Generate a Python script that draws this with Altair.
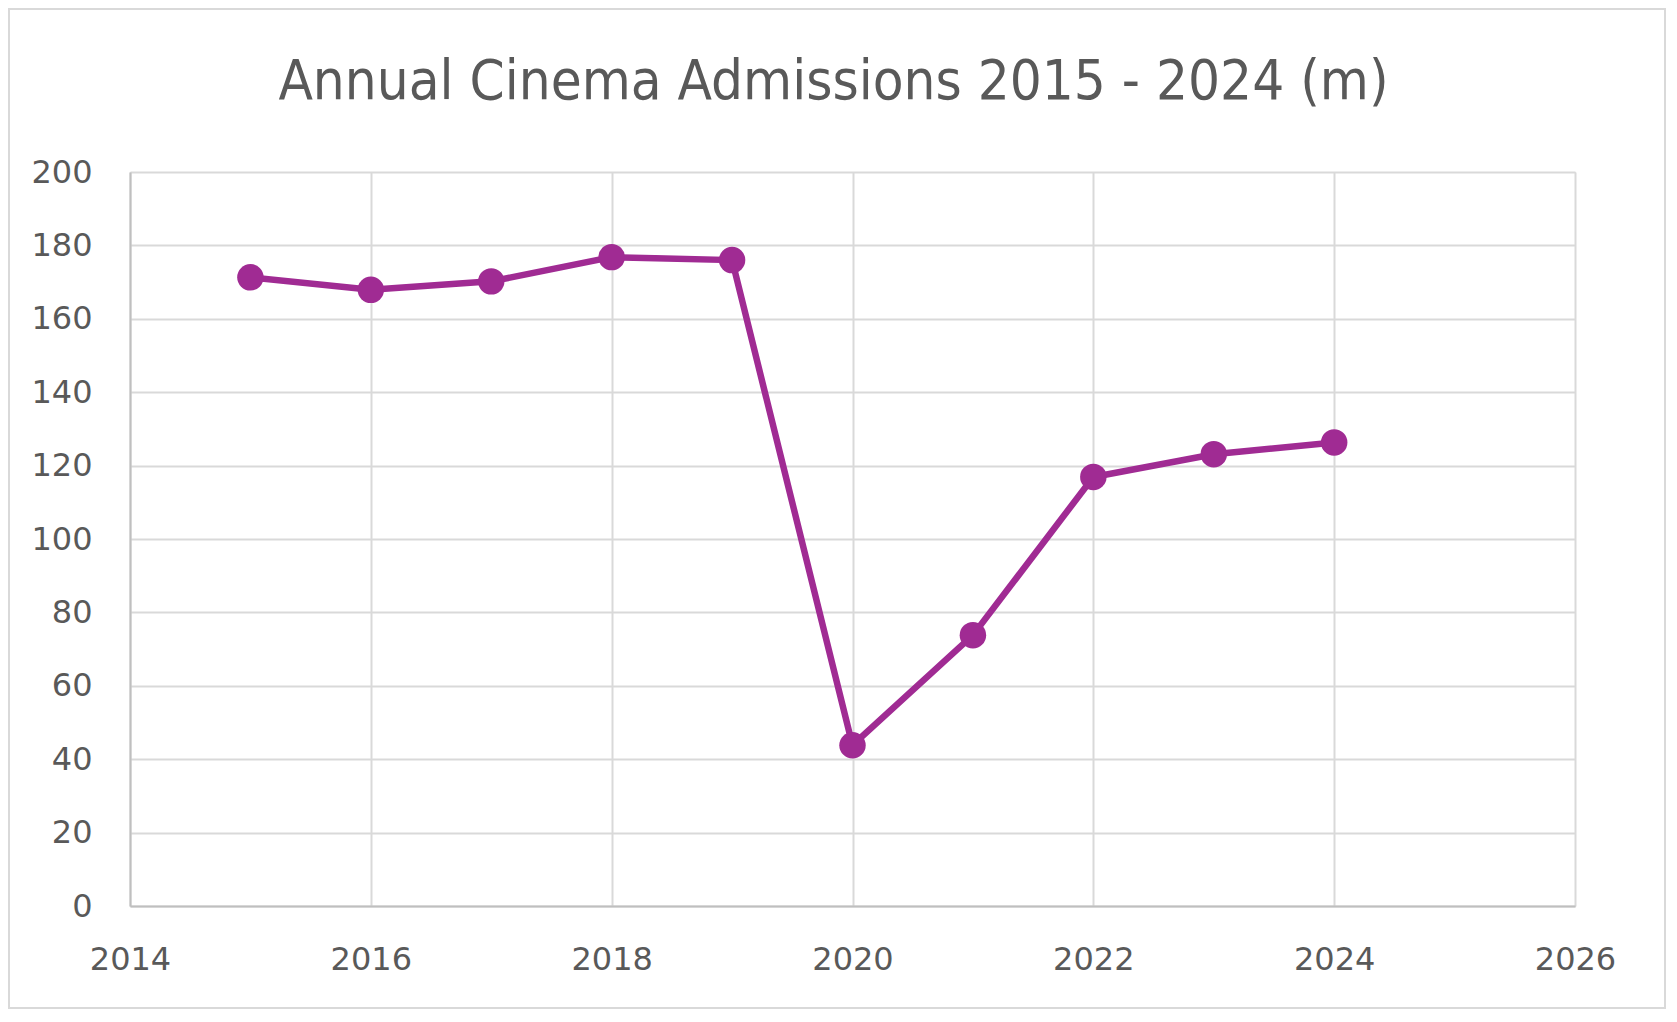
import altair as alt
import pandas as pd

years = [2015, 2016, 2017, 2018, 2019, 2020, 2021, 2022, 2023, 2024]
admissions = [171.3, 167.9, 170.2, 176.8, 176.0, 43.8, 73.8, 116.9, 123.1, 126.3]

df = pd.DataFrame({"year": years, "admissions": admissions})

LFONT = "DejaVu Sans"
TFONT = "Liberation Sans Narrow, DejaVu Sans Condensed, sans-serif"
TXT = "#595959"
PURPLE = "#a02b93"

x = alt.X("year:Q",
          scale=alt.Scale(domain=[2014, 2026], nice=False, zero=False),
          axis=alt.Axis(values=[2014, 2016, 2018, 2020, 2022, 2024, 2026], format="d",
                        title=None, ticks=False, labelPadding=38, labelFontSize=32,
                        labelFlush=False, labelOverlap=False,
                        labelColor=TXT, labelFont=LFONT, domainColor="#bfbfbf", domainWidth=2,
                        gridColor="#d9d9d9", gridWidth=2))
y = alt.Y("admissions:Q",
          scale=alt.Scale(domain=[0, 200], nice=False),
          axis=alt.Axis(values=list(range(0, 201, 20)), title=None, ticks=False,
                        labelPadding=38, labelFontSize=32, labelColor=TXT, labelFont=LFONT,
                        labelFlush=False, labelOverlap=False,
                        domainColor="#bfbfbf", domainWidth=2,
                        gridColor="#d9d9d9", gridWidth=2))

line = alt.Chart(df).mark_line(color=PURPLE, strokeWidth=6.5).encode(x=x, y=y)
pts = alt.Chart(df).mark_circle(color=PURPLE, size=700, opacity=1).encode(x=x, y=y)

border = alt.Chart(pd.DataFrame({"a": [0]})).mark_rect(
    fill=None, stroke="#d9d9d9", strokeWidth=2, clip=False
).encode(x=alt.value(-121), x2=alt.value(1535), y=alt.value(-163), y2=alt.value(836))

chart = alt.layer(border, line, pts).properties(
    width=1445, height=734,
    title=alt.TitleParams("Annual Cinema Admissions 2015 - 2024 (m)", fontSize=56,
                          font=TFONT, fontWeight="normal", color=TXT,
                          anchor="middle", frame="group", baseline="alphabetic",
                          offset=0, dy=147, dx=-19),
    autosize=alt.AutoSizeParams(type="none"),
    padding={"left": 122, "top": 164, "right": 92, "bottom": 106},
).configure_view(stroke="#d9d9d9", strokeWidth=2).configure(background="white")

chart.save("out.html", embed_options={"renderer": "svg", "actions": False})
